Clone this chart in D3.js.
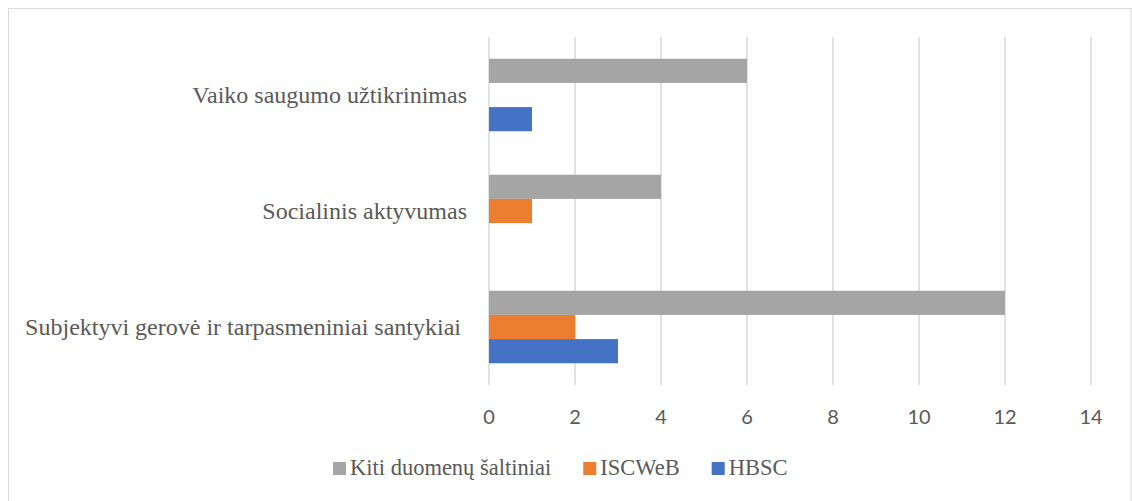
<!DOCTYPE html>
<html>
<head>
<meta charset="utf-8">
<script src="https://cdn.jsdelivr.net/npm/d3@7"></script>
<style>
  html, body { margin: 0; padding: 0; background: #fff; }
  svg { display: block; }
  .serif { font-family: "Liberation Serif", "Tinos", "Times New Roman", Times, "DejaVu Serif", serif; fill: #595959; white-space: pre; }
  .cat-label { font-size: 24px; }
  .legend-label { font-size: 22.5px; }
  .tick-label { font-family: Lato, "Open Sans", sans-serif; font-size: 20px; fill: #595959; }
</style>
</head>
<body>
<div id="chart"></div>
<script>
const CATEGORIES = ["Vaiko saugumo užtikrinimas", "Socialinis aktyvumas", "Subjektyvi gerovė ir tarpasmeniniai santykiai "];
const SERIES = ["Kiti duomenų šaltiniai", "ISCWeB", "HBSC"];
const KITI   = [6, 4, 12];
const ISCWEB = [0, 1, 2];
const HBSC   = [1, 0, 3];
const X_TICKS = [0, 2, 4, 6, 8, 10, 12, 14];

const COLOR = d3.scaleOrdinal()
  .domain(SERIES)
  .range(["#a5a5a5", "#ed7d31", "#4472c4"]);

const W = 1132, H = 501;
const M = { top: 37, right: 41, bottom: 116, left: 489 };
const iW = W - M.left - M.right;
const iH = H - M.top - M.bottom;

const rows = CATEGORIES.map((c, i) => ({
  cat: c,
  values: [KITI[i], ISCWEB[i], HBSC[i]].map((v, j) => ({ series: SERIES[j], value: v }))
}));

const svg = d3.select("#chart").append("svg")
  .attr("width", W).attr("height", H)
  .attr("viewBox", `0 0 ${W} ${H}`);

// outer chart border
svg.append("rect")
  .attr("x", 8.5).attr("y", 8.5)
  .attr("width", 1122.5).attr("height", H)
  .attr("fill", "#fff").attr("stroke", "#d9d9d9").attr("stroke-width", 1);

const g = svg.append("g").attr("transform", `translate(${M.left},${M.top})`);

const x = d3.scaleLinear().domain([0, 14]).range([0, iW]);
const y = d3.scaleBand().domain(CATEGORIES).range([0, iH]).paddingInner(0).paddingOuter(0);
const ySub = d3.scaleBand().domain(SERIES).range([0, y.bandwidth()]).paddingInner(0).paddingOuter(0.9);

// gridlines
g.append("g").selectAll("line")
  .data(X_TICKS)
  .join("line")
  .attr("x1", d => x(d)).attr("x2", d => x(d))
  .attr("y1", 0).attr("y2", iH)
  .attr("stroke", "#d9d9d9").attr("stroke-width", 1.5);

// bars
const groups = g.append("g").selectAll("g")
  .data(rows)
  .join("g")
  .attr("transform", d => `translate(0,${y(d.cat)})`);

groups.selectAll("rect")
  .data(d => d.values.filter(v => v.value > 0))
  .join("rect")
  .attr("x", x(0))
  .attr("y", d => ySub(d.series))
  .attr("width", d => x(d.value) - x(0))
  .attr("height", ySub.bandwidth())
  .attr("fill", d => COLOR(d.series));

// x tick labels
g.append("g").selectAll("text")
  .data(X_TICKS)
  .join("text")
  .attr("class", "tick-label")
  .attr("x", d => x(d))
  .attr("y", iH + 39)
  .attr("text-anchor", "middle")
  .text(d => d);

// category labels
g.append("g").selectAll("text")
  .data(CATEGORIES)
  .join("text")
  .attr("class", "serif cat-label")
  .attr("x", -22)
  .attr("y", d => y(d) + y.bandwidth() / 2 + 8)
  .attr("text-anchor", "end")
  .text(d => d);

// legend
const legend = svg.append("g").attr("transform", `translate(0, 475)`);
const items = legend.selectAll("g")
  .data(SERIES)
  .join("g");
items.append("rect")
  .attr("y", -13).attr("width", 13).attr("height", 13)
  .attr("fill", d => COLOR(d));
items.append("text")
  .attr("class", "serif legend-label")
  .attr("x", 17)
  .text(d => d);

const gap = 32;
let widths = [];
items.each(function () {
  widths.push(17 + this.querySelector("text").getComputedTextLength());
});
let cx = 333;
items.each(function (d, i) {
  d3.select(this).attr("transform", `translate(${cx},0)`);
  cx += widths[i] + gap;
});
</script>
</body>
</html>
